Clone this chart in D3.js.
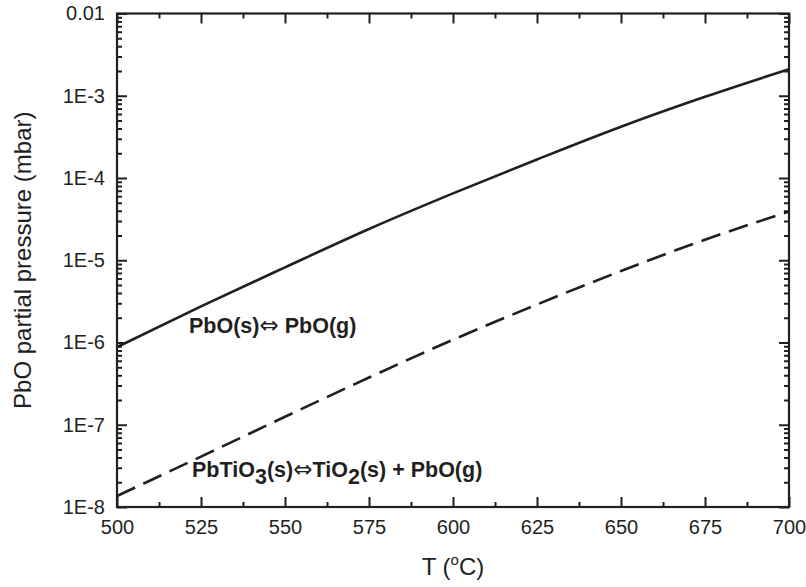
<!DOCTYPE html>
<html lang="en">
<head>
<meta charset="utf-8">
<title>PbO partial pressure</title>
<style>
  body { margin: 0; background: #fff; }
  svg { font-family: "Liberation Sans", Arial, sans-serif; }
  .axis path, .axis line { stroke: #231f20; }
  .axis text { fill: #231f20; font-size: 20px; font-family: "Liberation Sans", Arial, sans-serif; }
  .note { font-size: 21.5px; font-weight: bold; fill: #231f20; }
  .arrow { font-family: "DejaVu Sans", sans-serif; font-weight: normal; font-size: 23px; }
</style>
</head>
<body>
<svg id="chart" width="806" height="587"></svg>
<script src="https://d3js.org/d3.v7.min.js"></script>
<script>
// temperatures (°C)
const temps = [500, 525, 550, 575, 600, 625, 650, 675, 700];
// PbO(s) <=> PbO(g), mbar
const pboVap = [8.8e-7, 2.75e-6, 8.2e-6, 2.4e-5, 6.5e-5, 1.68e-4, 4.2e-4, 9.7e-4, 2.1e-3];
// PbTiO3(s) <=> TiO2(s) + PbO(g), mbar
const pbtioVap = [1.36e-8, 4.1e-8, 1.25e-7, 3.75e-7, 1.08e-6, 2.9e-6, 7.4e-6, 1.78e-5, 3.9e-5];

const xTicks = [500, 525, 550, 575, 600, 625, 650, 675, 700];
const yTicks = [1e-8, 1e-7, 1e-6, 1e-5, 1e-4, 1e-3, 1e-2];
const yTickLabels = ["1E-8", "1E-7", "1E-6", "1E-5", "1E-4", "1E-3", "0.01"];

const margin = {left: 117, right: 17, top: 13.5, bottom: 80};
const W = 806, H = 587;
const iw = W - margin.left - margin.right;
const ih = H - margin.top - margin.bottom;

const svg = d3.select("#chart");
const g = svg.append("g").attr("transform", `translate(${margin.left},${margin.top})`);

const x = d3.scaleLinear().domain([500, 700]).range([0, iw]);
const y = d3.scaleLog().domain([1e-8, 1e-2]).range([ih, 0]);

// minor ticks
const xMinor = d3.range(512.5, 700, 25);
const yMinor = [];
for (let e = -8; e < -2; e++) {
  for (let m = 2; m <= 9; m++) yMinor.push(m * Math.pow(10, e));
}

function styleAxis(sel) {
  sel.select(".domain").remove();
  sel.selectAll("line").attr("stroke-width", 2);
}

// bottom
g.append("g").attr("class", "axis").attr("transform", `translate(0,${ih})`)
  .call(d3.axisBottom(x).tickValues(xTicks).tickSize(-10).tickPadding(13).tickFormat(d3.format("d")))
  .call(styleAxis);
g.append("g").attr("class", "axis").attr("transform", `translate(0,${ih})`)
  .call(d3.axisBottom(x).tickValues(xMinor).tickSize(-5).tickFormat(""))
  .call(styleAxis);
// top
g.append("g").attr("class", "axis")
  .call(d3.axisTop(x).tickValues(xTicks).tickSize(-10).tickFormat(""))
  .call(styleAxis);
g.append("g").attr("class", "axis")
  .call(d3.axisTop(x).tickValues(xMinor).tickSize(-5).tickFormat(""))
  .call(styleAxis);
// left
g.append("g").attr("class", "axis")
  .call(d3.axisLeft(y).tickValues(yTicks).tickSize(-10).tickPadding(12)
    .tickFormat((d, i) => yTickLabels[i]))
  .call(styleAxis);
g.append("g").attr("class", "axis")
  .call(d3.axisLeft(y).tickValues(yMinor).tickSize(-5).tickFormat(""))
  .call(styleAxis);
// right
g.append("g").attr("class", "axis").attr("transform", `translate(${iw},0)`)
  .call(d3.axisRight(y).tickValues(yTicks).tickSize(-10).tickFormat(""))
  .call(styleAxis);
g.append("g").attr("class", "axis").attr("transform", `translate(${iw},0)`)
  .call(d3.axisRight(y).tickValues(yMinor).tickSize(-5).tickFormat(""))
  .call(styleAxis);

// frame
g.append("rect").attr("width", iw).attr("height", ih)
  .attr("fill", "none").attr("stroke", "#231f20").attr("stroke-width", 2.2);

const line = d3.line()
  .x((d, i) => x(temps[i]))
  .y(d => y(d))
  .curve(d3.curveMonotoneX);

g.append("path").datum(pboVap).attr("d", line)
  .attr("fill", "none").attr("stroke", "#231f20").attr("stroke-width", 2.6);
g.append("path").datum(pbtioVap).attr("d", line)
  .attr("fill", "none").attr("stroke", "#231f20").attr("stroke-width", 2.6)
  .attr("stroke-dasharray", "20,9");

// annotations
const t1 = svg.append("text").attr("class", "note").attr("x", 189).attr("y", 333);
t1.append("tspan").text("PbO(s)");
t1.append("tspan").attr("class", "arrow").text("\u21D4");
t1.append("tspan").text(" PbO(g)");

const t2 = svg.append("text").attr("class", "note").attr("x", 192).attr("y", 477);
t2.append("tspan").text("PbTiO");
t2.append("tspan").attr("dy", 7).text("3");
t2.append("tspan").attr("dy", -7).text("(s)");
t2.append("tspan").attr("class", "arrow").text("\u21D4");
t2.append("tspan").text("TiO");
t2.append("tspan").attr("dy", 7).text("2");
t2.append("tspan").attr("dy", -7).text("(s) + PbO(g)");

// axis titles
svg.append("text")
  .attr("transform", `translate(31,${margin.top + ih / 2}) rotate(-90)`)
  .attr("text-anchor", "middle")
  .style("font-size", "24px").attr("fill", "#231f20")
  .text("PbO partial pressure (mbar)");

const xt = svg.append("text")
  .attr("x", margin.left + iw / 2).attr("y", 575)
  .attr("text-anchor", "middle")
  .style("font-size", "24px").attr("fill", "#231f20");
xt.append("tspan").text("T (");
xt.append("tspan").attr("dy", -10).style("font-size", "15px").text("o");
xt.append("tspan").attr("dy", 10).text("C)");
</script>
</body>
</html>
